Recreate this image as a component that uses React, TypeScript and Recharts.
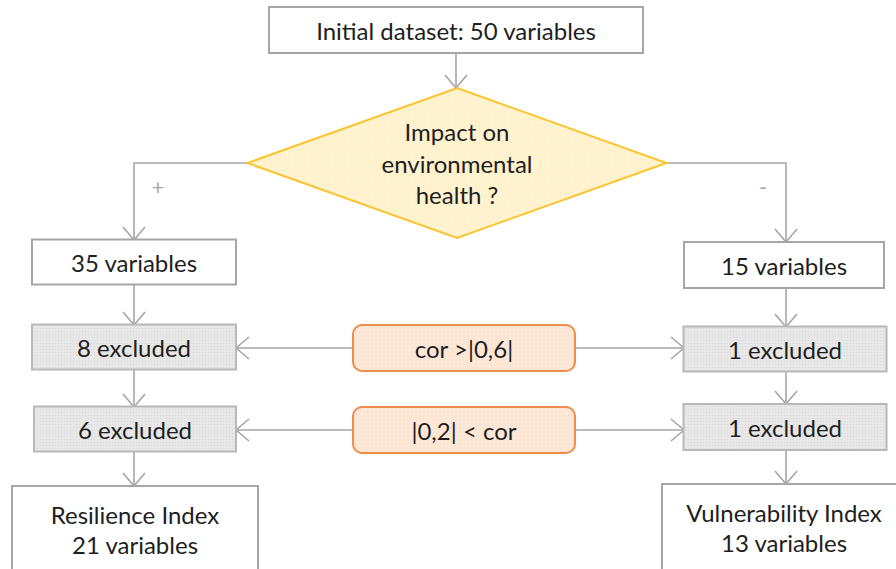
import React from "react";
import { ScatterChart, Scatter, XAxis, YAxis } from "recharts";

// chart units = pixels of the 896x569 canvas
const W = 896;
const H = 569;

type Kind = "plain" | "decision" | "excluded" | "criterion" | "index";

interface FlowNode {
  x: number;
  y: number;
  w: number;
  h: number;
  kind: Kind;
  lines: string[];
}

const startNodes: FlowNode[] = [
  { x: 456, y: 30, w: 374, h: 46, kind: "plain", lines: ["Initial dataset: 50 variables"] },
];

const decisionNodes: FlowNode[] = [
  { x: 457, y: 163, w: 419, h: 150, kind: "decision", lines: ["Impact on", "environmental", "health ?"] },
];

const variableNodes: FlowNode[] = [
  { x: 134, y: 262, w: 204, h: 45, kind: "plain", lines: ["35 variables"] },
  { x: 784, y: 265, w: 200, h: 46, kind: "plain", lines: ["15 variables"] },
];

const excludedNodes: FlowNode[] = [
  { x: 134, y: 347, w: 204, h: 45, kind: "excluded", lines: ["8 excluded"] },
  { x: 135, y: 429, w: 202, h: 45, kind: "excluded", lines: ["6 excluded"] },
  { x: 785, y: 349, w: 203, h: 45, kind: "excluded", lines: ["1 excluded"] },
  { x: 785, y: 427, w: 203, h: 46, kind: "excluded", lines: ["1 excluded"] },
];

const criterionNodes: FlowNode[] = [
  { x: 464, y: 348, w: 222, h: 46, kind: "criterion", lines: ["cor >|0,6|"] },
  { x: 464, y: 430, w: 222, h: 46, kind: "criterion", lines: ["|0,2| < cor"] },
];

const indexNodes: FlowNode[] = [
  { x: 135, y: 543, w: 246, h: 114, kind: "index", lines: ["Resilience Index", "21 variables"] },
  { x: 784, y: 542, w: 244, h: 116, kind: "index", lines: ["Vulnerability Index", "13 variables"] },
];

type Dir = "down" | "left" | "right";

interface Edge {
  points: [number, number][];
  head: Dir;
}

const edges: Edge[] = [
  { points: [[456, 53], [456, 88]], head: "down" },
  { points: [[248, 163], [134, 163], [134, 240]], head: "down" },
  { points: [[667, 163], [786, 163], [786, 242]], head: "down" },
  { points: [[134, 285], [134, 325]], head: "down" },
  { points: [[134, 370], [134, 407]], head: "down" },
  { points: [[134, 452], [134, 486]], head: "down" },
  { points: [[786, 288], [786, 327]], head: "down" },
  { points: [[786, 372], [786, 404]], head: "down" },
  { points: [[786, 450], [786, 484]], head: "down" },
  { points: [[353, 348], [236, 348]], head: "left" },
  { points: [[353, 430], [236, 430]], head: "left" },
  { points: [[575, 348], [684, 348]], head: "right" },
  { points: [[575, 430], [684, 430]], head: "right" },
];

const branchLabels = [
  { x: 158, y: 186, text: "+" },
  { x: 763, y: 186, text: "-" },
];

const FONT = "Lato, 'Open Sans', sans-serif";
const TEXT = "#1e1e1e";
const LINE = "#a6a6a6";

const fills: Record<Kind, string> = {
  plain: "#ffffff",
  index: "#ffffff",
  decision: "url(#dotsYellow)",
  excluded: "url(#dotsGray)",
  criterion: "url(#dotsOrange)",
};
const strokes: Record<Kind, string> = {
  plain: "#a6a6a6",
  index: "#a6a6a6",
  decision: "#fac42e",
  excluded: "#b8b8b8",
  criterion: "#f08c4a",
};

const Patterns = () => (
  <defs>
    <pattern id="dotsYellow" width="5" height="5" patternUnits="userSpaceOnUse">
      <rect width="5" height="5" fill="#fff2cc" />
      <circle cx="2.5" cy="2.5" r="0.7" fill="#fffbea" />
    </pattern>
    <pattern id="dotsGray" width="3" height="3" patternUnits="userSpaceOnUse">
      <rect width="3" height="3" fill="#e8e8e8" />
      <circle cx="1.5" cy="1.5" r="0.6" fill="#d6d6d6" />
    </pattern>
    <pattern id="dotsOrange" width="4" height="4" patternUnits="userSpaceOnUse">
      <rect width="4" height="4" fill="#fde5d4" />
      <circle cx="2" cy="2" r="0.7" fill="#fff4ec" />
    </pattern>
  </defs>
);

// eslint-disable-next-line @typescript-eslint/no-explicit-any
const NodeShape = (props: any) => {
  const { cx, cy, payload } = props;
  const n = payload as FlowNode;
  const x0 = cx - n.w / 2;
  const y0 = cy - n.h / 2;
  let body: React.ReactNode;
  if (n.kind === "decision") {
    const pts = `${cx},${y0} ${cx + n.w / 2},${cy} ${cx},${y0 + n.h} ${cx - n.w / 2},${cy}`;
    body = <polygon points={pts} fill={fills[n.kind]} stroke={strokes[n.kind]} strokeWidth={2} />;
  } else {
    body = (
      <rect
        x={x0}
        y={y0}
        width={n.w}
        height={n.h}
        rx={n.kind === "criterion" ? 9 : 0}
        fill={fills[n.kind]}
        stroke={strokes[n.kind]}
        strokeWidth={2}
      />
    );
  }
  const lineGap = n.kind === "decision" ? 31.5 : 30;
  const firstY = n.kind === "index" ? y0 + 28 : cy - ((n.lines.length - 1) * lineGap) / 2;
  return (
    <g>
      <Patterns />
      {body}
      {n.lines.map((t, i) => (
        <text
          key={i}
          x={cx}
          y={firstY + i * lineGap}
          textAnchor="middle"
          dominantBaseline="central"
          fontFamily={FONT}
          fontSize={24}
          fill={TEXT}
        >
          {t}
        </text>
      ))}
    </g>
  );
};

// eslint-disable-next-line @typescript-eslint/no-explicit-any
const ArrowShape = (props: any) => {
  const { cx, cy, payload } = props;
  if (!payload.head) return <g />;
  const a = 11;
  const l = 13;
  let d = "";
  if (payload.head === "down") d = `M${cx - a},${cy - l} L${cx},${cy} L${cx + a},${cy - l}`;
  if (payload.head === "left") d = `M${cx + l},${cy - a} L${cx},${cy} L${cx + l},${cy + a}`;
  if (payload.head === "right") d = `M${cx - l},${cy - a} L${cx},${cy} L${cx - l},${cy + a}`;
  return <path d={d} fill="none" stroke={LINE} strokeWidth={1.6} />;
};

// eslint-disable-next-line @typescript-eslint/no-explicit-any
const LabelShape = (props: any) => {
  const { cx, cy, payload } = props;
  return (
    <text x={cx} y={cy} textAnchor="middle" dominantBaseline="central" fontFamily={FONT} fontSize={22} fill="#a6a6a6">
      {payload.text}
    </text>
  );
};

const nodeGroups = [startNodes, decisionNodes, variableNodes, excludedNodes, criterionNodes, indexNodes];

export default function App() {
  return (
    <div style={{ width: W, height: H, background: "#ffffff" }}>
      <style>{"body{margin:0}"}</style>
      <ScatterChart width={W} height={H} margin={{ top: 0, right: 0, bottom: 0, left: 0 }}>
        <XAxis type="number" dataKey="x" domain={[0, W]} hide allowDataOverflow />
        <YAxis type="number" dataKey="y" domain={[0, H]} reversed hide allowDataOverflow width={0} />
        {edges.map((e, i) => (
          <Scatter
            key={`e${i}`}
            data={e.points.map((p, j) => ({ x: p[0], y: p[1], head: j === e.points.length - 1 ? e.head : null }))}
            line={{ stroke: LINE, strokeWidth: 1.6 }}
            lineJointType="linear"
            shape={ArrowShape}
            isAnimationActive={false}
            legendType="none"
          />
        ))}
        {nodeGroups.map((g, i) => (
          <Scatter key={`n${i}`} data={g} shape={NodeShape} isAnimationActive={false} legendType="none" />
        ))}
        <Scatter data={branchLabels} shape={LabelShape} isAnimationActive={false} legendType="none" />
      </ScatterChart>
    </div>
  );
}
